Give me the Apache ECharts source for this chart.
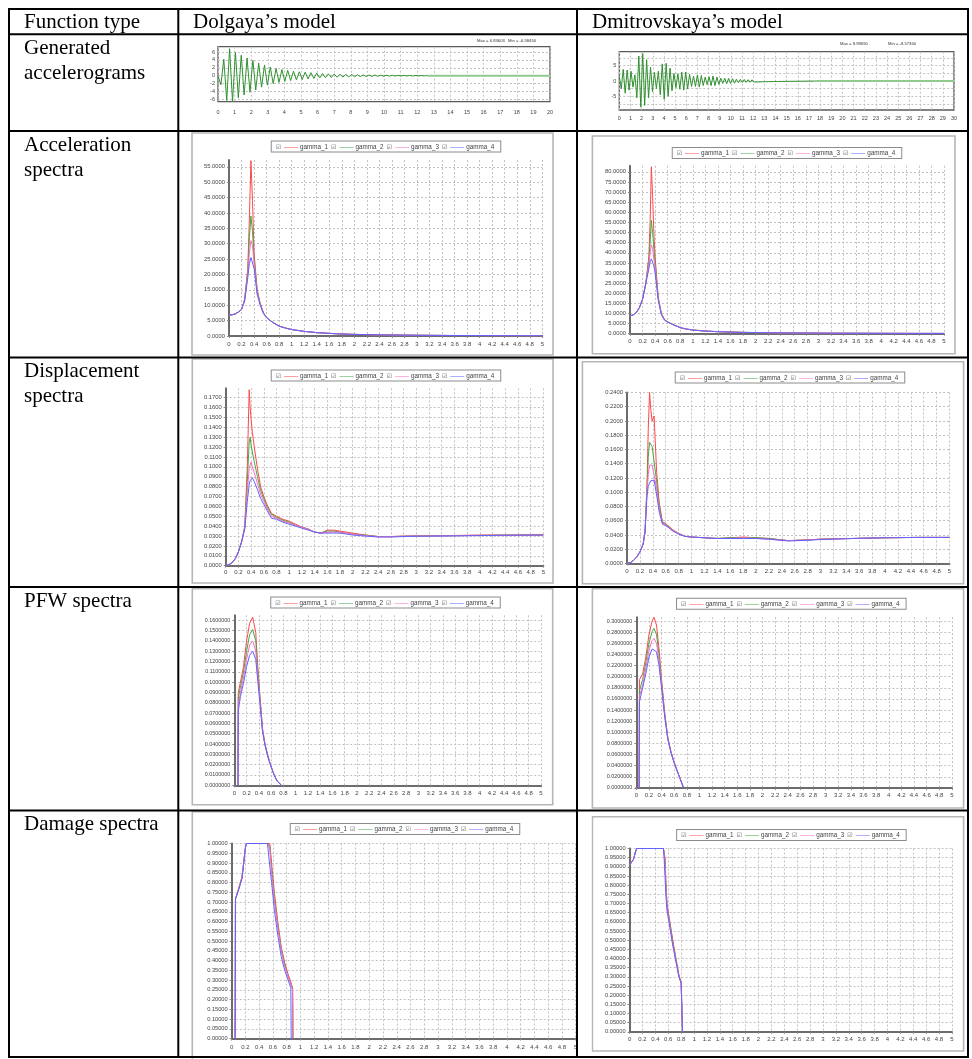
<!DOCTYPE html>
<html><head><meta charset="utf-8">
<script src="https://cdn.jsdelivr.net/npm/echarts@6.0.0/dist/echarts.min.js"></script>
<style>html,body{margin:0;padding:0;background:#fff}#c{width:972px;height:1059px}</style>
</head><body><div id="c"></div>
<script>
// ---------------- DATA ----------------
const gammaNames = ['gamma_1', 'gamma_2', 'gamma_3', 'gamma_4'];
const headerTexts = ['Function type', 'Dolgaya\u2019s model', 'Dmitrovskaya\u2019s model'];
const rowLabels = [['Generated', 'accelerograms'], ['Acceleration', 'spectra'], ['Displacement', 'spectra'], ['PFW spectra'], ['Damage spectra']];

// Generated accelerograms (sampled at half-period steps)
const dolgayaDt = 0.175;
const dolgayaAcc = [0, -2.3, 4.2, -6.3, 6.83603, -6.5845, 6.0, -5.6, 5.2, -4.9,
  4.5, -4.2, 3.9, -3.6, 3.2, -2.9, 2.7, -2.4, 2.2, -2.0,
  1.85, -1.7, 1.55, -1.45, 1.35, -1.25, 1.15, -1.08, 1.0, -0.95,
  0.88, -0.82, 0.76, -0.7, 0.64, -0.6, 0.56, -0.52, 0.48, -0.45,
  0.42, -0.39, 0.36, -0.34, 0.32, -0.3, 0.28, -0.26, 0.24, -0.22,
  0.21, -0.2, 0.18, -0.17, 0.16, -0.15, 0.14, -0.13, 0.12, -0.11,
  0.1, -0.095, 0.09, -0.085, 0.08, -0.075, 0.07, -0.065, 0.06, -0.055,
  0.05, -0.045, 0.04];
const dolgayaTail = [[12.6, 0], [20, 0]];
const dolgayaMaxMin = ['Max = 6.83603', 'Min = -6.58450'];

const dmitDt = 0.175;
const dmitAcc = [1.5, -2.5, 3.8, -4.0, 3.6, -3.0, 3.2, -2.0, 2.0, -5.5,
  8.2, -8.5736, 8.9969, -8.0, 7.0, -5.5, 4.5, -3.5, 2.8, -2.5,
  3.2, -4.5, 5.6, -6.0, 5.8, -5.0, 4.2, -3.2, 2.5, -2.2,
  2.4, -2.7, 2.9, -3.0, 2.9, -2.6, 2.2, -1.8, 1.6, -1.8,
  2.0, -2.0, 1.8, -1.5, 1.3, -1.2, 1.4, -1.5, 1.6, -1.5,
  1.3, -1.1, 0.9, -0.8, 0.9, -0.9, 0.85, -0.8, 0.75, -0.7,
  0.6, -0.55, 0.55, -0.5, 0.5, -0.45, 0.42, -0.4, 0.38, -0.35,
  0.3, -0.3, 0.28, -0.26, 0.25, -0.23, 0.22, -0.2, 0.2, -0.18,
  0.17, -0.16, 0.15, -0.14, 0.14, -0.13, 0.12, -0.11, 0.1, -0.1,
  0.09, -0.08, 0.08, -0.07, 0.06, -0.05, 0.05, -0.04, 0.03, -0.02, 0];
const dmitTail = [[17.5, 0], [30, 0]];
const dmitMaxMin = ['Max = 8.99690', 'Min = -8.57360'];

const dolgayaYLabels = [-6, -4, -2, 0, 2, 4, 6];
const dmitYLabels = [-5, 0, 5];
const dmitYGrid = [-7.5, -5, -2.5, 0, 2.5, 5, 7.5];

// Acceleration spectra – Dolgaya
const asP1 = [0, 0.05, 0.1, 0.15, 0.2, 0.25, 0.3, 0.325, 0.35, 0.375, 0.4, 0.45, 0.5, 0.55, 0.6, 0.7, 0.8, 0.9, 1.0, 1.2, 1.4, 1.6, 1.8, 2.0, 2.5, 3.0, 3.5, 4.0, 4.5, 5.0];
const as1G1 = [6.8, 6.9, 7.2, 7.8, 8.6, 12, 22, 38, 57, 44, 27, 15, 10.5, 7.6, 6.0, 4.4, 3.2, 2.6, 2.1, 1.5, 1.1, 0.85, 0.65, 0.52, 0.34, 0.24, 0.17, 0.13, 0.1, 0.08];
const as1G2 = [6.8, 6.9, 7.2, 7.8, 8.6, 11.8, 21, 32, 39, 34, 25, 14.5, 10.3, 7.5, 6.0, 4.4, 3.2, 2.6, 2.1, 1.5, 1.1, 0.85, 0.65, 0.52, 0.34, 0.24, 0.17, 0.13, 0.1, 0.08];
const as1G3 = [6.8, 6.9, 7.2, 7.8, 8.6, 11.6, 20, 27, 31, 29.5, 23.5, 14, 10.1, 7.4, 5.9, 4.4, 3.2, 2.6, 2.1, 1.5, 1.1, 0.85, 0.65, 0.52, 0.34, 0.24, 0.17, 0.13, 0.1, 0.08];
const as1G4 = [6.8, 6.9, 7.2, 7.8, 8.6, 11.4, 19, 23.5, 25.5, 26, 22, 13.5, 9.9, 7.3, 5.9, 4.4, 3.2, 2.6, 2.1, 1.5, 1.1, 0.85, 0.65, 0.52, 0.34, 0.24, 0.17, 0.13, 0.1, 0.08];

// Acceleration spectra – Dmitrovskaya
const asP2 = [0, 0.05, 0.1, 0.15, 0.2, 0.25, 0.3, 0.32, 0.34, 0.36, 0.38, 0.4, 0.45, 0.5, 0.55, 0.6, 0.7, 0.8, 0.9, 1.0, 1.2, 1.4, 1.6, 1.8, 2.0, 2.5, 3.0, 3.5, 4.0, 4.5, 5.0];
const as2G1 = [8.8, 9.3, 10.4, 12.9, 17, 24.5, 38, 55, 82.5, 68, 50, 38, 18, 10, 7.0, 5.8, 4.3, 3.0, 2.3, 1.8, 1.3, 1.0, 0.8, 0.65, 0.55, 0.38, 0.28, 0.22, 0.18, 0.15, 0.13];
const as2G2 = [8.8, 9.3, 10.4, 12.9, 17, 24.5, 36, 45, 56, 50, 42, 35, 17.5, 9.8, 6.9, 5.8, 4.3, 3.0, 2.3, 1.8, 1.3, 1.0, 0.8, 0.65, 0.55, 0.38, 0.28, 0.22, 0.18, 0.15, 0.13];
const as2G3 = [8.8, 9.3, 10.4, 12.9, 17, 24.5, 34, 40, 44, 42, 37, 32.5, 17, 9.6, 6.8, 5.7, 4.3, 3.0, 2.3, 1.8, 1.3, 1.0, 0.8, 0.65, 0.55, 0.38, 0.28, 0.22, 0.18, 0.15, 0.13];
const as2G4 = [8.8, 9.3, 10.4, 12.9, 17, 24.5, 32, 35.5, 37, 36.5, 33.5, 30, 16.5, 9.4, 6.7, 5.7, 4.3, 3.0, 2.3, 1.8, 1.3, 1.0, 0.8, 0.65, 0.55, 0.38, 0.28, 0.22, 0.18, 0.15, 0.13];

// Displacement spectra – Dolgaya
const dsP1 = [0, 0.05, 0.1, 0.15, 0.2, 0.25, 0.3, 0.34, 0.37, 0.385, 0.4, 0.42, 0.45, 0.5, 0.55, 0.6, 0.65, 0.72, 0.8, 0.9, 1.0, 1.1, 1.2, 1.3, 1.4, 1.5, 1.6, 1.7, 1.8, 1.9, 2.0, 2.2, 2.4, 2.6, 2.8, 3.0, 3.5, 4.0, 4.5, 5.0];
const ds1G1 = [0, 0.001, 0.003, 0.007, 0.014, 0.024, 0.04, 0.1, 0.178, 0.16, 0.148, 0.135, 0.12, 0.098, 0.08, 0.07, 0.062, 0.053, 0.05, 0.047, 0.045, 0.042, 0.039, 0.037, 0.034, 0.033, 0.036, 0.036, 0.035, 0.034, 0.033, 0.031, 0.0295, 0.0295, 0.03, 0.0302, 0.0305, 0.031, 0.031, 0.0315];
const ds1G2 = [0, 0.001, 0.003, 0.007, 0.014, 0.024, 0.039, 0.085, 0.125, 0.13, 0.122, 0.115, 0.105, 0.09, 0.076, 0.068, 0.06, 0.052, 0.049, 0.046, 0.044, 0.041, 0.039, 0.037, 0.034, 0.033, 0.035, 0.035, 0.034, 0.033, 0.032, 0.031, 0.0295, 0.0295, 0.0298, 0.03, 0.0303, 0.0307, 0.031, 0.031];
const ds1G3 = [0, 0.001, 0.003, 0.007, 0.014, 0.024, 0.038, 0.075, 0.098, 0.102, 0.105, 0.1, 0.094, 0.083, 0.072, 0.065, 0.058, 0.05, 0.048, 0.045, 0.043, 0.041, 0.039, 0.037, 0.034, 0.033, 0.034, 0.034, 0.034, 0.033, 0.032, 0.0305, 0.0293, 0.0293, 0.0297, 0.03, 0.0302, 0.0306, 0.0309, 0.031];
const ds1G4 = [0, 0.001, 0.003, 0.007, 0.014, 0.024, 0.037, 0.065, 0.082, 0.086, 0.088, 0.089, 0.085, 0.077, 0.068, 0.062, 0.056, 0.048, 0.047, 0.044, 0.042, 0.04, 0.038, 0.036, 0.034, 0.033, 0.033, 0.033, 0.033, 0.032, 0.031, 0.03, 0.029, 0.029, 0.0295, 0.0298, 0.0301, 0.0305, 0.0308, 0.031];

// Displacement spectra – Dmitrovskaya
const dsP2 = [0, 0.05, 0.1, 0.15, 0.2, 0.25, 0.28, 0.31, 0.33, 0.35, 0.37, 0.39, 0.42, 0.46, 0.5, 0.55, 0.6, 0.65, 0.7, 0.8, 0.9, 1.0, 1.2, 1.4, 1.6, 1.8, 2.0, 2.2, 2.5, 2.8, 3.0, 3.5, 4.0, 4.5, 5.0];
const ds2G1 = [0, 0.001, 0.004, 0.009, 0.016, 0.027, 0.045, 0.11, 0.19, 0.24, 0.215, 0.2, 0.207, 0.128, 0.085, 0.058, 0.056, 0.052, 0.048, 0.042, 0.038, 0.037, 0.036, 0.035, 0.036, 0.037, 0.036, 0.035, 0.032, 0.033, 0.034, 0.035, 0.036, 0.0365, 0.0365];
const ds2G2 = [0, 0.001, 0.004, 0.009, 0.016, 0.027, 0.045, 0.105, 0.15, 0.17, 0.168, 0.164, 0.163, 0.115, 0.08, 0.057, 0.055, 0.051, 0.047, 0.042, 0.038, 0.037, 0.036, 0.035, 0.036, 0.036, 0.036, 0.035, 0.032, 0.033, 0.034, 0.035, 0.036, 0.0365, 0.0365];
const ds2G3 = [0, 0.001, 0.004, 0.009, 0.016, 0.027, 0.045, 0.1, 0.125, 0.138, 0.14, 0.138, 0.136, 0.105, 0.076, 0.056, 0.054, 0.05, 0.047, 0.042, 0.038, 0.037, 0.036, 0.035, 0.035, 0.036, 0.035, 0.034, 0.032, 0.033, 0.034, 0.035, 0.036, 0.0365, 0.0365];
const ds2G4 = [0, 0.001, 0.004, 0.009, 0.016, 0.027, 0.044, 0.095, 0.108, 0.113, 0.116, 0.118, 0.117, 0.096, 0.072, 0.055, 0.053, 0.05, 0.046, 0.041, 0.038, 0.037, 0.036, 0.035, 0.035, 0.035, 0.035, 0.034, 0.0315, 0.0325, 0.0335, 0.035, 0.036, 0.0365, 0.0365];

// PFW spectra – Dolgaya
const pfP1 = [0.06, 0.065, 0.1, 0.15, 0.2, 0.25, 0.3, 0.32, 0.35, 0.38, 0.42, 0.46, 0.5, 0.55, 0.6, 0.65, 0.7, 0.77];
const pf1G1 = [0, 0.09, 0.1, 0.115, 0.14, 0.157, 0.163, 0.162, 0.148, 0.118, 0.085, 0.055, 0.04, 0.028, 0.018, 0.01, 0.004, 0];
const pf1G2 = [0, 0.085, 0.095, 0.11, 0.13, 0.146, 0.151, 0.15, 0.14, 0.113, 0.083, 0.054, 0.04, 0.028, 0.018, 0.01, 0.004, 0];
const pf1G3 = [0, 0.078, 0.09, 0.104, 0.122, 0.136, 0.14, 0.139, 0.13, 0.108, 0.081, 0.053, 0.039, 0.027, 0.018, 0.01, 0.004, 0];
const pf1G4 = [0, 0.072, 0.086, 0.099, 0.115, 0.126, 0.13, 0.129, 0.122, 0.103, 0.078, 0.052, 0.039, 0.027, 0.018, 0.01, 0.004, 0];

// PFW spectra – Dmitrovskaya
const pfP2 = [0.045, 0.05, 0.1, 0.15, 0.2, 0.25, 0.28, 0.32, 0.36, 0.4, 0.45, 0.5, 0.55, 0.6, 0.65, 0.7, 0.75];
const pf2G1 = [0, 0.195, 0.205, 0.235, 0.275, 0.3, 0.307, 0.293, 0.25, 0.195, 0.135, 0.09, 0.065, 0.046, 0.03, 0.015, 0];
const pf2G2 = [0, 0.175, 0.195, 0.225, 0.26, 0.281, 0.287, 0.276, 0.24, 0.19, 0.133, 0.089, 0.064, 0.046, 0.03, 0.015, 0];
const pf2G3 = [0, 0.165, 0.185, 0.215, 0.247, 0.265, 0.269, 0.26, 0.23, 0.185, 0.131, 0.088, 0.064, 0.046, 0.03, 0.015, 0];
const pf2G4 = [0, 0.155, 0.18, 0.205, 0.235, 0.25, 0.253, 0.245, 0.22, 0.18, 0.128, 0.087, 0.063, 0.045, 0.03, 0.015, 0];

// Damage spectra – Dolgaya
const dmP1 = [0.05, 0.055, 0.1, 0.15, 0.2, 0.215, 0.52, 0.555, 0.58, 0.62, 0.67, 0.72, 0.77, 0.82, 0.86, 0.865, 0.885, 0.89];
const dm1G1 = [0, 0.715, 0.77, 0.83, 0.98, 1, 1, 1, 0.9, 0.75, 0.6, 0.47, 0.39, 0.33, 0.29, 0.285, 0.26, 0];
const dm1G2 = [0, 0.715, 0.765, 0.825, 0.98, 1, 1, 0.985, 0.87, 0.73, 0.58, 0.46, 0.38, 0.32, 0.28, 0.275, 0.255, 0];
const dm1G3 = [0, 0.715, 0.765, 0.825, 0.98, 1, 1, 0.97, 0.85, 0.71, 0.57, 0.45, 0.37, 0.32, 0.28, 0.275, 0.25, 0];
const dm1G4 = [0, 0.715, 0.76, 0.82, 0.98, 1, 1, 0.88, 0.8, 0.66, 0.53, 0.42, 0.35, 0.3, 0.26, 0, 0, 0];

// Damage spectra – Dmitrovskaya
const dmP2 = [0, 0.03, 0.06, 0.09, 0.11, 0.525, 0.535, 0.55, 0.56, 0.58, 0.62, 0.67, 0.72, 0.765, 0.8, 0.815, 0.82];
const dm2G1 = [0.91, 0.915, 0.94, 0.98, 1, 1, 1, 0.95, 0.85, 0.7, 0.61, 0.5, 0.4, 0.31, 0.27, 0.26, 0];
const dm2G2 = [0.91, 0.915, 0.94, 0.98, 1, 1, 1, 0.93, 0.82, 0.69, 0.6, 0.49, 0.39, 0.305, 0.27, 0.26, 0];
const dm2G3 = [0.91, 0.915, 0.94, 0.98, 1, 1, 0.98, 0.9, 0.8, 0.68, 0.59, 0.48, 0.385, 0.3, 0.265, 0.26, 0];
const dm2G4 = [0.91, 0.915, 0.94, 0.98, 1, 1, 0.95, 0.85, 0.76, 0.66, 0.58, 0.47, 0.38, 0.3, 0.265, 0.26, 0];

// ---------------- BUILD ----------------
const COLORS = ['#ff4848', '#44a844', '#ff6ac6', '#6262ff'];
const LABEL_FONT = 'Liberation Sans';
const SERIF = 'Liberation Serif';
const grids = [], xAxes = [], yAxes = [], series = [], graphics = [];
const gridLine = { show: true, lineStyle: { color: '#c2c2c2', type: [2, 2], width: 1 } };

function addAccel(c) {
  const gi = grids.length;
  grids.push({ left: c.l, top: c.t, width: c.w, height: c.h, show: true, borderColor: '#5a5a5a', borderWidth: 1.3, backgroundColor: 'rgba(0,0,0,0)' });
  xAxes.push({ type: 'value', gridIndex: gi, min: 0, max: c.xmax, interval: 1,
    axisLine: { show: false }, axisTick: { show: false },
    axisLabel: { fontSize: 5.5, color: '#444', margin: c.xm, fontFamily: LABEL_FONT },
    splitLine: gridLine });
  yAxes.push({ type: 'value', gridIndex: gi, min: c.ymin, max: c.ymax,
    axisLine: { show: false }, axisTick: { show: false, customValues: c.gridVals },
    axisLabel: { fontSize: 5.5, color: '#444', margin: 3, fontFamily: LABEL_FONT, customValues: c.labelVals },
    splitLine: gridLine });
  series.push({ type: 'line', xAxisIndex: gi, yAxisIndex: gi, data: c.data, showSymbol: false, symbol: 'none',
    lineStyle: { color: '#2f902f', width: 1 }, animation: false, silent: true, z: 3 });
  series.push({ type: 'line', xAxisIndex: gi, yAxisIndex: gi, data: c.tail, showSymbol: false, symbol: 'none',
    lineStyle: { color: '#8fcb8f', width: 2 }, animation: false, silent: true, z: 3 });
  graphics.push({ type: 'text', x: c.mx, y: c.my, style: { text: c.maxmin[0], fontSize: 4.2, fontFamily: LABEL_FONT, fill: '#333', verticalAlign: 'middle' } });
  graphics.push({ type: 'text', x: c.nx, y: c.my, style: { text: c.maxmin[1], fontSize: 4.2, fontFamily: LABEL_FONT, fill: '#333', verticalAlign: 'middle' } });
}

function legendText() {
  let s = '';
  gammaNames.forEach((n, k) => { s += '{c|\u2611}{l' + k + '|\u2014\u2014}{t|' + n + '}'; });
  return s;
}
const legendRich = {
  c: { fontFamily: 'DejaVu Sans', fontSize: 6, fill: '#555', color: '#555', padding: [0, 2, 0, 0] },
  t: { fontFamily: LABEL_FONT, fontSize: 6.3, fill: '#444', color: '#444', padding: [0, 3, 0, 1] }
};
COLORS.forEach((col, k) => { legendRich['l' + k] = { fontFamily: LABEL_FONT, fontSize: 7, fill: col, color: col, padding: [0, 1, 0, 1] }; });

function addSpectrum(c) {
  const gi = grids.length;
  if (c.openRight) {
    graphics.push({ type: 'polyline', shape: { points: [[c.fx, c.fy + c.fh], [c.fx, c.fy], [c.openRight, c.fy]] },
      style: { fill: null, stroke: '#b6b6b6', lineWidth: 1.6 }, z: 0 });
  } else {
    graphics.push({ type: 'rect', shape: { x: c.fx, y: c.fy, width: c.fw, height: c.fh },
      style: { fill: 'rgba(0,0,0,0)', stroke: '#b6b6b6', lineWidth: 1.6 }, z: 0 });
  }
  grids.push({ left: c.l, top: c.t, width: c.w, height: c.h });
  xAxes.push({ type: 'value', gridIndex: gi, min: 0, max: 5, interval: 0.2,
    axisLine: { show: true, onZero: false, lineStyle: { color: '#6c6c6c', width: 2 } },
    axisTick: { show: true, length: 2, lineStyle: { color: '#888' } },
    axisLabel: { fontSize: 6, color: '#444', margin: c.xm, fontFamily: LABEL_FONT, hideOverlap: false },
    splitLine: gridLine });
  yAxes.push({ type: 'value', gridIndex: gi, min: 0, max: c.ymax, interval: c.yint,
    axisLine: { show: true, onZero: false, lineStyle: { color: '#6c6c6c', width: 2 } },
    axisTick: { show: true, length: 2, lineStyle: { color: '#888' } },
    axisLabel: { fontSize: c.yfs, color: '#444', margin: 4, fontFamily: LABEL_FONT,
      formatter: v => v.toFixed(c.dec), showMaxLabel: c.topLabel, showMinLabel: true },
    splitLine: { show: true, showMaxLine: c.topLabel, lineStyle: { color: '#c2c2c2', type: [2, 2], width: 1 } } });
  c.G.forEach((g, k) => series.push({ type: 'line', name: gammaNames[k], xAxisIndex: gi, yAxisIndex: gi,
    data: c.P.map((p, i) => [p, g[i]]), showSymbol: false, symbol: 'none',
    lineStyle: { color: COLORS[k], width: 1 }, itemStyle: { color: COLORS[k] }, animation: false, silent: true, z: 3 + k }));
  graphics.push({ type: 'text', x: c.lx, y: c.ly, z: 5,
    style: { text: legendText(), rich: legendRich, align: 'center', verticalAlign: 'middle',
      backgroundColor: '#fff', borderColor: '#8c8c8c', borderWidth: 1, padding: [2, 3, 1, 4] } });
}

// accelerograms
addAccel({ l: 218, t: 46.7, w: 332, h: 55, xmax: 20, ymin: -6.6, ymax: 7.36, xm: 8,
  gridVals: dolgayaYLabels, labelVals: dolgayaYLabels,
  data: dolgayaAcc.map((v, i) => [i * dolgayaDt, v]), tail: dolgayaTail,
  maxmin: dolgayaMaxMin, mx: 477, nx: 508, my: 40.5 });
addAccel({ l: 619.3, t: 51.7, w: 334.7, h: 58.3, xmax: 30, ymin: -9.5, ymax: 9.6, xm: 5.5,
  gridVals: dmitYGrid, labelVals: dmitYLabels,
  data: dmitAcc.map((v, i) => [i * dmitDt, v]), tail: dmitTail,
  maxmin: dmitMaxMin, mx: 840, nx: 888, my: 43.5 });

// spectra
addSpectrum({ fx: 192, fy: 133, fw: 361, fh: 222, l: 229, t: 160, w: 313.3, h: 176, ymax: 57.2, yint: 5, dec: 4, yfs: 5.8, topLabel: false, xm: 5,
  P: asP1, G: [as1G1, as1G2, as1G3, as1G4], lx: 386, ly: 146.5 });
addSpectrum({ fx: 592.4, fy: 136, fw: 362.6, fh: 217.7, l: 630, t: 165.8, w: 314, h: 167.9, ymax: 83, yint: 5, dec: 4, yfs: 5.8, topLabel: false, xm: 5,
  P: asP2, G: [as2G1, as2G2, as2G3, as2G4], lx: 787, ly: 153 });
addSpectrum({ fx: 192.3, fy: 359, fw: 360.7, fh: 224, l: 225.7, t: 388.3, w: 317.6, h: 177.4, ymax: 0.1795, yint: 0.01, dec: 4, yfs: 5.8, topLabel: false, xm: 4,
  P: dsP1, G: [ds1G1, ds1G2, ds1G3, ds1G4], lx: 386, ly: 375.5 });
addSpectrum({ fx: 582.4, fy: 361.7, fw: 381.2, fh: 222, l: 627, t: 392.5, w: 322.5, h: 170.9, ymax: 0.24, yint: 0.02, dec: 4, yfs: 5.8, topLabel: true, xm: 5,
  P: dsP2, G: [ds2G1, ds2G2, ds2G3, ds2G4], lx: 790, ly: 377.6 });
addSpectrum({ fx: 192.3, fy: 588.7, fw: 360.4, fh: 216, l: 234.3, t: 615.3, w: 306.7, h: 170, ymax: 0.1648, yint: 0.01, dec: 7, yfs: 5.4, topLabel: false, xm: 5,
  P: pfP1, G: [pf1G1, pf1G2, pf1G3, pf1G4], lx: 385.5, ly: 602.5 });
addSpectrum({ fx: 592.4, fy: 588.7, fw: 371.2, fh: 219.3, l: 636.3, t: 617.2, w: 315.6, h: 170.8, ymax: 0.307, yint: 0.02, dec: 7, yfs: 5.4, topLabel: false, xm: 4,
  P: pfP2, G: [pf2G1, pf2G2, pf2G3, pf2G4], lx: 791.3, ly: 603.8 });
addSpectrum({ fx: 192.3, fy: 811.7, fw: 428, fh: 262, openRight: 577, l: 231.7, t: 843.5, w: 343.9, h: 195, ymax: 1.0, yint: 0.05, dec: 5, yfs: 5.7, topLabel: true, xm: 5.5,
  P: dmP1, G: [dm1G1, dm1G2, dm1G3, dm1G4], lx: 405, ly: 829 });
addSpectrum({ fx: 592.4, fy: 816.7, fw: 371.2, fh: 234.3, l: 629.6, t: 848.5, w: 322.3, h: 183.3, ymax: 1.0, yint: 0.05, dec: 5, yfs: 5.7, topLabel: true, xm: 5,
  P: dmP2, G: [dm2G1, dm2G2, dm2G3, dm2G4], lx: 791.4, ly: 835 });

// clip of the left damage picture at the cell border
graphics.push({ type: 'rect', z: 50, shape: { x: 578, y: 811.5, width: 13.5, height: 245 }, style: { fill: '#fff' } });

// table lines
const vLines = [9, 178.3, 577, 968];
const hLines = [9, 34.3, 131, 357.5, 587, 810.5, 1057];
vLines.forEach(x => graphics.push({ type: 'line', z: 100, shape: { x1: x, y1: 8, x2: x, y2: 1058 }, style: { stroke: '#000', lineWidth: 2 } }));
hLines.forEach(y => graphics.push({ type: 'line', z: 100, shape: { x1: 8, y1: y, x2: 969, y2: y }, style: { stroke: '#000', lineWidth: 2 } }));

// table texts
function cellText(str, x, y) {
  graphics.push({ type: 'text', z: 100, x: x, y: y, style: { text: str, fontSize: 21, fontFamily: SERIF, fill: '#000', verticalAlign: 'middle', align: 'left' } });
}
cellText(headerTexts[0], 24, 22);
cellText(headerTexts[1], 193, 22);
cellText(headerTexts[2], 592, 22);
const rowTops = [34.3, 131, 357.5, 587, 810.5];
rowLabels.forEach((lines, r) => lines.forEach((s, j) => cellText(s, 24, rowTops[r] + 14 + j * 25)));

const chart = echarts.init(document.getElementById('c'), null, { renderer: 'canvas' });
chart.setOption({ animation: false, backgroundColor: '#fff', grid: grids, xAxis: xAxes, yAxis: yAxes, series: series, graphic: { elements: graphics } });
</script></body></html>
